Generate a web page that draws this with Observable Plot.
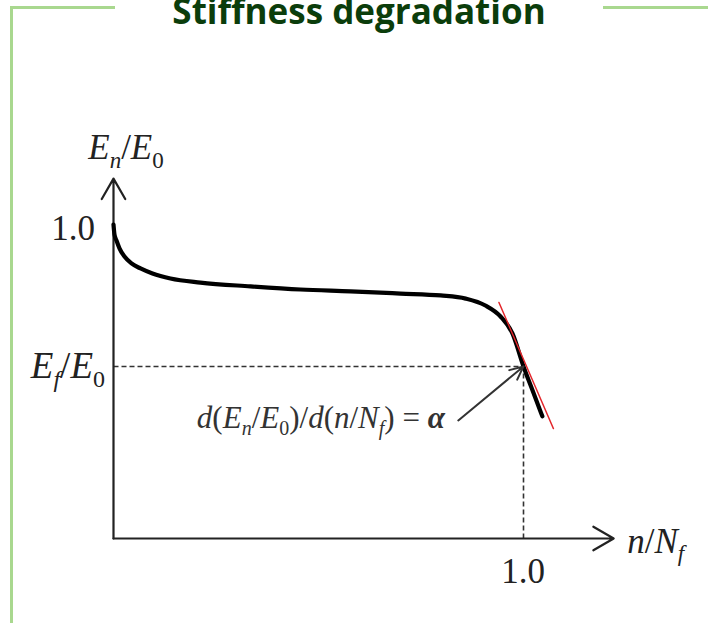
<!DOCTYPE html>
<html>
<head>
<meta charset="utf-8">
<script src="https://cdn.jsdelivr.net/npm/d3@7"></script>
<script src="https://cdn.jsdelivr.net/npm/@observablehq/plot@0.6"></script>
<style>
  body { margin: 0; background: #fff; }
  #panel { position: relative; width: 708px; height: 623px; overflow: hidden; background: #fff; }
  #frame { position: absolute; left: 10px; top: 6px; width: 720px; height: 700px;
           border-top: 3px solid #a9d88f; border-left: 3px solid #a9d88f; }
  #title { position: absolute; left: 115px; width: 488px; top: -6px; height: 34px;
           background: #fff; text-align: center; white-space: nowrap;
           font: bold 35px "Open Sans", sans-serif; line-height: 34px; color: #0b3d0b; }
  #chart { position: absolute; left: 0; top: 0; }
</style>
</head>
<body>
<div id="panel">
  <div id="frame"></div>
  <div id="title">Stiffness degradation</div>
  <div id="chart"></div>
</div>
<script>
// Normalised stiffness E_n/E_0 against life fraction n/N_f
const lifeFraction = [0, 0.0024, 0.0073, 0.0146, 0.0268, 0.0439, 0.0659, 0.0951, 0.139, 0.212, 0.334, 0.456, 0.578, 0.70, 0.798, 0.859, 0.907, 0.944, 0.973, 1.0, 1.024, 1.046];
const stiffness    = [1.0, 0.968, 0.949, 0.924, 0.898, 0.876, 0.860, 0.844, 0.828, 0.815, 0.803, 0.793, 0.787, 0.780, 0.774, 0.764, 0.742, 0.707, 0.653, 0.548, 0.465, 0.389];

// Failure point (n/N_f = 1, E_f/E_0)
const failX = [1.0];
const failY = [0.548];

// Tangent at failure, slope alpha
const tangentX = [0.94, 1.073];
const tangentY = [0.752, 0.35];

// Leader from the formula to the failure point
const leaderFrom = [0.841, 0.376];

// Axis extents
const xMax = 1.22;
const yMax = 1.146;

// Tick labels
const xTicks = ["1.0"];
const yTicks = ["1.0"];

// Math labels as [text, style] runs: "i" italic, "sub" italic subscript, "sub0" upright subscript
const yTitle = [["E", "i"], ["n", "sub"], ["/", ""], ["E", "i"], ["0", "sub0"]];
const xTitle = [["n", "i"], ["/", ""], ["N", "i"], ["f", "sub"]];
const failLabel = [["E", "i"], ["f", "sub"], ["/", ""], ["E", "i"], ["0", "sub0"]];
const formula = [["d", "i"], ["(", ""], ["E", "i"], ["n", "sub"], ["/", ""], ["E", "i"], ["0", "sub0"], [")/", ""],
                 ["d", "i"], ["(", ""], ["n", "i"], ["/", ""], ["N", "i"], ["f", "sub"], [")", ""], [" = ", ""], ["α", "bold"]];

const curveData = lifeFraction.map((x, i) => ({x, y: stiffness[i]}));
const ink = "#222";

const plot = Plot.plot({
  width: 708,
  height: 623,
  x: {domain: [0, 1], range: [113, 523], axis: null},
  y: {domain: [0, 1], range: [538, 224], axis: null},
  style: {background: "transparent", overflow: "visible"},
  marks: [
    // dashed guides to the failure point
    Plot.link(failX, {x1: 0, y1: failY[0], x2: d => d, y2: failY[0], stroke: "#333", strokeWidth: 1.6, strokeDasharray: "5,3"}),
    Plot.link(failY, {x1: failX[0], y1: 0, x2: failX[0], y2: d => d, stroke: "#333", strokeWidth: 1.6, strokeDasharray: "5,3"}),
    // axes with arrowheads
    Plot.arrow([xMax], {x1: 0, y1: 0, x2: d => d, y2: 0, stroke: ink, strokeWidth: 2.2, headLength: 16, headAngle: 60}),
    Plot.arrow([yMax], {x1: 0, y1: 0, x2: 0, y2: d => d, stroke: ink, strokeWidth: 2.2, headLength: 16, headAngle: 60}),
    // stiffness curve
    Plot.line(curveData, {x: "x", y: "y", curve: "monotone-x", stroke: "#000", strokeWidth: 4.2}),
    // tangent at failure
    Plot.line(tangentX.map((x, i) => ({x, y: tangentY[i]})), {x: "x", y: "y", stroke: "#e3262b", strokeWidth: 1.4}),
    // leader arrow
    Plot.arrow([leaderFrom], {x1: d => d[0], y1: d => d[1], x2: failX[0], y2: failY[0], stroke: "#333", strokeWidth: 2, headLength: 11, headAngle: 50})
  ]
});
document.getElementById("chart").appendChild(plot);

const sx = plot.scale("x"), sy = plot.scale("y");
const svg = d3.select(plot);

function mathText(x, y, runs, {dx = 0, dy = 0, anchor = "start", size = 35, fill = ink} = {}) {
  const t = svg.append("text")
    .attr("x", sx.apply(x) + dx)
    .attr("y", sy.apply(y) + dy)
    .attr("text-anchor", anchor)
    .attr("font-family", "'Liberation Serif', 'Times New Roman', serif")
    .attr("font-size", size)
    .attr("fill", fill);
  let shifted = 0;
  const subSize = Math.round(size * 0.66);
  const drop = size * 0.24;
  for (const [s, style] of runs) {
    const isSub = style === "sub" || style === "sub0";
    const ts = t.append("tspan").text(s);
    const target = isSub ? drop : 0;
    if (target !== shifted) { ts.attr("dy", target - shifted); shifted = target; }
    if (isSub) ts.attr("font-size", subSize);
    if (style === "i" || style === "sub" || style === "bold") ts.attr("font-style", "italic");
    if (style === "bold") ts.attr("font-weight", "bold");
  }
  return t;
}

mathText(0, yMax, yTitle, {dx: 13, dy: -19, anchor: "middle"});
mathText(0, 1, yTicks.map(s => [s, ""]), {dx: -18, dy: 16, anchor: "end"});
mathText(0, failY[0], failLabel, {dx: -8, dy: 12, anchor: "end", size: 37});
mathText(failX[0], 0, xTicks.map(s => [s, ""]), {dy: 45, anchor: "middle"});
mathText(xMax, 0, xTitle, {dx: 14, dy: 15, anchor: "start"});
mathText(leaderFrom[0], leaderFrom[1], formula, {dx: -13, dy: 8, anchor: "end", size: 31, fill: "#333"});
</script>
</body>
</html>
